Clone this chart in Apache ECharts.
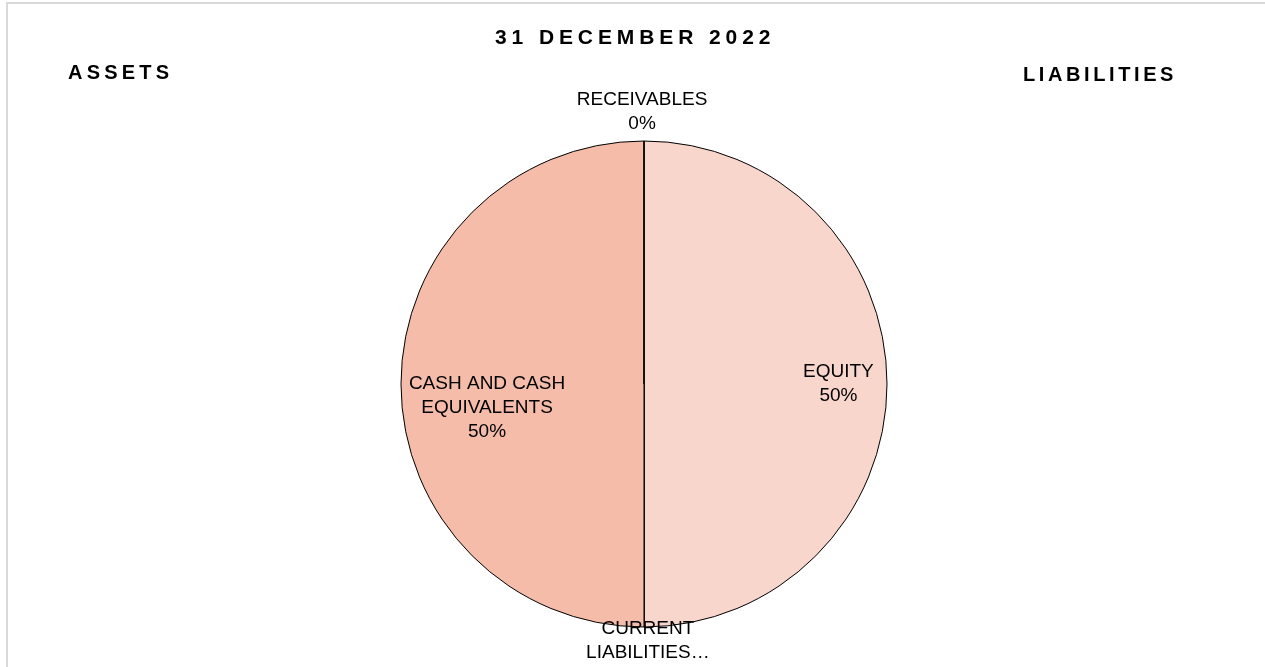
<!DOCTYPE html>
<html>
<head>
<meta charset="utf-8">
<script src="https://cdn.jsdelivr.net/npm/echarts@6/dist/echarts.min.js"></script>
<style>
  html, body { margin: 0; padding: 0; background: #fff; }
  #chart { position: absolute; left: 0; top: 0; width: 1265px; height: 667px; }
  .hd { position: absolute; font-family: "Liberation Sans", Arial, sans-serif; font-weight: bold;
        color: #000; white-space: nowrap; line-height: 1; }
</style>
</head>
<body>
<div id="chart"></div>
<div class="hd" id="t1" style="left:495px; top:26px; font-size:21px; letter-spacing:4.9px;">31 DECEMBER 2022</div>
<div class="hd" id="t2" style="left:68px; top:62px; font-size:20px; letter-spacing:4.2px;">ASSETS</div>
<div class="hd" id="t3" style="left:1023px; top:64px; font-size:20px; letter-spacing:3.6px;">LIABILITIES</div>
<script>
// Data (clockwise from 12 o'clock)
const categories = ['EQUITY', 'CURRENT LIABILITIES', 'CASH AND CASH EQUIVALENTS', 'RECEIVABLES'];
const values = [50, 0, 50, 0];
const labelTexts = ['EQUITY', 'CURRENT\nLIABILITIES\u2026', 'CASH AND CASH\nEQUIVALENTS', 'RECEIVABLES'];
const colors = ['#F8D6CC', '#F8D6CC', '#F4BCA9', '#F4BCA9'];

const cx = 644, cy = 384, r = 243;
// label placement (fraction of radius along x / y from center)
const labelPlace = [
  { fx: 0.80, fy: 0.0 },
  { fx: 0.016, fy: 1.056 },
  { fx: -0.646, fy: 0.099 },
  { fx: -0.008, fy: -1.12 }
];

const chart = echarts.init(document.getElementById('chart'), null, { renderer: 'canvas' });
chart.setOption({
  animation: false,
  backgroundColor: '#fff',
  graphic: [{
    type: 'rect',
    shape: { x: 7, y: 3, width: 2000, height: 2000 },
    style: { fill: 'none', stroke: '#d9d9d9', lineWidth: 2 },
    silent: true
  }],
  series: [{
    type: 'pie',
    center: [cx, cy],
    radius: r,
    startAngle: 90,
    clockwise: true,
    avoidLabelOverlap: false,
    minShowLabelAngle: 0,
    stillShowZeroSum: true,
    data: categories.map((c, i) => ({
      name: c,
      value: values[i],
      itemStyle: { color: colors[i] }
    })),
    itemStyle: { borderColor: '#000', borderWidth: 1 },
    label: {
      show: true,
      position: 'inside',
      fontFamily: 'Liberation Sans, Arial, sans-serif',
      fontSize: 19,
      lineHeight: 24,
      color: '#000',
      align: 'center',
      formatter: p => labelTexts[p.dataIndex] + (p.dataIndex === 1 ? '' : '\n' + Math.round(p.percent) + '%')
    },
    labelLine: { show: false },
    labelLayout: p => {
      const lp = labelPlace[p.dataIndex];
      return { x: cx + lp.fx * r, y: cy + lp.fy * r, align: 'center', verticalAlign: 'middle' };
    },
    emphasis: { disabled: true }
  }]
});
</script>
</body>
</html>
